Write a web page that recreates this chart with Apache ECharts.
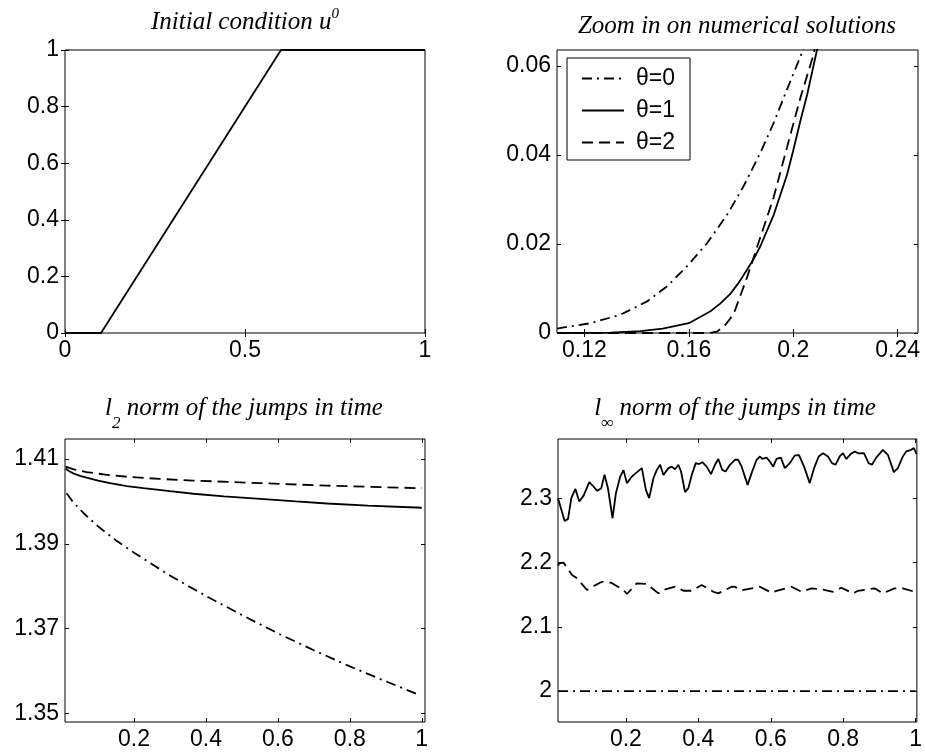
<!DOCTYPE html>
<html>
<head>
<meta charset="utf-8">
<script src="https://cdn.jsdelivr.net/npm/echarts@6/dist/echarts.min.js"></script>
<style>
html,body{margin:0;padding:0;background:#fff;}
#chart{width:925px;height:756px;}
</style>
</head>
<body>
<div id="chart"></div>
<script>
// ---------- Data ----------
// Panel 1: initial condition u0
const u0X = [0, 0.1, 0.6, 1];
const u0Y = [0, 0, 1, 1];
const p1XTicks = [0, 0.5, 1];
const p1YTicks = [0, 0.2, 0.4, 0.6, 0.8, 1];

// Panel 2: zoom on numerical solutions
const legendNames = ['θ=0', 'θ=1', 'θ=2'];
const zoomX0 = [0.1095, 0.1102, 0.1223, 0.1338, 0.1440, 0.1517, 0.1593, 0.1670, 0.1747, 0.1810, 0.1874, 0.1925, 0.1976, 0.2028, 0.2045];
const zoomY0 = [0.0010, 0.0011, 0.0022, 0.0041, 0.0071, 0.0105, 0.0150, 0.0202, 0.0266, 0.0330, 0.0405, 0.0472, 0.0547, 0.0622, 0.0650];
const zoomX1 = [0.1095, 0.1300, 0.1415, 0.1500, 0.1600, 0.1683, 0.1720, 0.1759, 0.1790, 0.1823, 0.1850, 0.1874, 0.1925, 0.1976, 0.2000, 0.2028, 0.2053, 0.2091, 0.2105];
const zoomY1 = [0.0000, 0.0001, 0.0004, 0.0010, 0.0022, 0.0049, 0.0066, 0.0088, 0.0112, 0.0142, 0.0168, 0.0195, 0.0265, 0.0355, 0.0410, 0.0478, 0.0535, 0.0636, 0.0670];
const zoomX2 = [0.1095, 0.1680, 0.1708, 0.1740, 0.1772, 0.1823, 0.1874, 0.1925, 0.1976, 0.2028, 0.2076, 0.2090];
const zoomY2 = [0.0000, 0.0000, 0.0003, 0.0018, 0.0043, 0.0125, 0.0215, 0.0305, 0.0417, 0.0530, 0.0622, 0.0660];
const p2XTicks = [0.12, 0.16, 0.2, 0.24];
const p2YTicks = [0, 0.02, 0.04, 0.06];

// Panel 3: l2 norm of the jumps in time
const l2T0 = [0.0125, 0.03, 0.06, 0.1, 0.15, 0.2, 0.3, 0.4, 0.5, 0.6, 0.7, 0.8, 0.9, 0.995];
const l2V0 = [1.4019, 1.3999, 1.3972, 1.3941, 1.3908, 1.3879, 1.3825, 1.3777, 1.3732, 1.3689, 1.3649, 1.3611, 1.3576, 1.3543];
const l2T1 = [0.01, 0.02, 0.031, 0.05, 0.068, 0.1, 0.133, 0.18, 0.226, 0.3, 0.365, 0.45, 0.551, 0.65, 0.737, 0.85, 1.0];
const l2V1 = [1.4077, 1.4071, 1.4066, 1.4060, 1.4056, 1.4049, 1.4043, 1.4036, 1.4031, 1.4024, 1.4018, 1.4012, 1.4006, 1.4000, 1.3995, 1.3990, 1.3985];
const l2T2 = [0.01, 0.03, 0.068, 0.12, 0.18, 0.27, 0.365, 0.551, 0.737, 1.0];
const l2V2 = [1.4082, 1.4076, 1.4069, 1.4063, 1.4058, 1.4053, 1.4049, 1.4043, 1.4037, 1.4031];
const p3XTicks = [0.2, 0.4, 0.6, 0.8, 1];
const p3YTicks = [1.35, 1.37, 1.39, 1.41];

// Panel 4: l_inf norm of the jumps in time
const linfT0 = [0.0125, 1.0];
const linfV0 = [2.0, 2.0];
const linfT1 = [0.0125, 0.0309, 0.0402, 0.0493, 0.0603, 0.0713, 0.0832, 0.0989, 0.1080, 0.1209, 0.1320, 0.1410, 0.1504, 0.1631, 0.1725, 0.1843, 0.1934, 0.2028, 0.2165, 0.2275, 0.2441, 0.2551, 0.2642, 0.2760, 0.2854, 0.2945, 0.3036, 0.3174, 0.3267, 0.3358, 0.3449, 0.3523, 0.3634, 0.3725, 0.3818, 0.3928, 0.4019, 0.4110, 0.4231, 0.4350, 0.4460, 0.4551, 0.4661, 0.4755, 0.4873, 0.5011, 0.5102, 0.5196, 0.5361, 0.5471, 0.5609, 0.5700, 0.5764, 0.5884, 0.5975, 0.6066, 0.6160, 0.6278, 0.6388, 0.6526, 0.6664, 0.6780, 0.6920, 0.7077, 0.7196, 0.7325, 0.7444, 0.7581, 0.7691, 0.7785, 0.7904, 0.7994, 0.8088, 0.8207, 0.8317, 0.8427, 0.8573, 0.8702, 0.8793, 0.8915, 0.9096, 0.9234, 0.9399, 0.9510, 0.9647, 0.9741, 0.9879, 0.9950, 1.0030];
const linfV1 = [2.300, 2.2646, 2.2678, 2.300, 2.3145, 2.2947, 2.304, 2.325, 2.3197, 2.3114, 2.3156, 2.3363, 2.3156, 2.2688, 2.3078, 2.3336, 2.3436, 2.3234, 2.3336, 2.339, 2.3467, 2.313, 2.300, 2.331, 2.344, 2.3519, 2.336, 2.3467, 2.349, 2.345, 2.352, 2.3414, 2.3093, 2.3156, 2.336, 2.3545, 2.353, 2.356, 2.349, 2.3374, 2.3519, 2.361, 2.344, 2.3414, 2.3519, 2.3597, 2.3597, 2.349, 2.3207, 2.339, 2.3597, 2.3648, 2.361, 2.3632, 2.357, 2.349, 2.361, 2.3632, 2.3467, 2.3545, 2.3664, 2.367, 2.349, 2.3234, 2.3467, 2.3648, 2.370, 2.3648, 2.3545, 2.3519, 2.3648, 2.370, 2.361, 2.3685, 2.3726, 2.3695, 2.370, 2.3545, 2.3519, 2.3632, 2.3752, 2.3674, 2.3405, 2.3467, 2.3648, 2.3726, 2.3752, 2.3779, 2.3685];
const linfT2 = [0.0125, 0.0163, 0.0281, 0.0512, 0.0650, 0.0926, 0.1044, 0.1339, 0.1595, 0.1934, 0.2028, 0.2303, 0.2579, 0.2898, 0.3036, 0.3358, 0.3587, 0.3818, 0.4094, 0.4413, 0.4551, 0.4920, 0.5011, 0.5196, 0.5471, 0.5700, 0.6022, 0.6160, 0.6573, 0.6849, 0.7124, 0.7444, 0.7719, 0.7950, 0.8270, 0.8408, 0.8868, 0.9096, 0.9419, 0.9647, 0.9970];
const linfV2 = [2.195, 2.1988, 2.1997, 2.1805, 2.1754, 2.1572, 2.1614, 2.170, 2.1685, 2.1572, 2.151, 2.1676, 2.1665, 2.152, 2.1572, 2.1623, 2.1561, 2.1561, 2.165, 2.1545, 2.152, 2.1623, 2.1620, 2.1570, 2.1598, 2.1623, 2.153, 2.156, 2.1623, 2.1545, 2.1598, 2.158, 2.1545, 2.1607, 2.152, 2.156, 2.1598, 2.152, 2.1598, 2.1598, 2.1545];
const p4XTicks = [0.2, 0.4, 0.6, 0.8, 1];
const p4YTicks = [2, 2.1, 2.2, 2.3];

// ---------- Styles ----------
const SANS = 'Liberation Sans, Arial, Helvetica, sans-serif';
const SERIF = 'Liberation Serif, Times New Roman, serif';
const LABEL_SIZE = 23;
const DASH = [11, 6];
const DASHDOT = [10, 5, 2, 5];
const LW = 1.8;

const grids = [
  {left: 65, top: 50, width: 360, height: 283},
  {left: 557, top: 50, width: 361, height: 283},
  {left: 65, top: 439, width: 360, height: 283},
  {left: 558, top: 439, width: 359, height: 283}
];
const ranges = [
  {x: [0, 1], y: [0, 1], xt: p1XTicks, yt: p1YTicks},
  {x: [0.1095, 0.2478], y: [0, 0.0636], xt: p2XTicks, yt: p2YTicks},
  {x: [0.008, 1.009], y: [1.348, 1.4147], xt: p3XTicks, yt: p3YTicks},
  {x: [0.0125, 1.0035], y: [1.952, 2.392], xt: p4XTicks, yt: p4YTicks}
];

const fmt = v => String(+(+v).toFixed(4));

const xAxes = [], yAxes = [];
ranges.forEach((r, i) => {
  ['bottom', 'top'].forEach(pos => {
    xAxes.push({
      type: 'value', gridIndex: i, position: pos, min: r.x[0], max: r.x[1],
      axisLine: {show: false},
      splitLine: {show: false},
      axisTick: {show: true, inside: true, length: 4, customValues: r.xt, lineStyle: {color: '#000', width: 1}},
      axisLabel: {show: pos === 'bottom', customValues: r.xt, formatter: fmt, color: '#000', fontSize: LABEL_SIZE, fontFamily: SANS, margin: 6}
    });
  });
  ['left', 'right'].forEach(pos => {
    yAxes.push({
      type: 'value', gridIndex: i, position: pos, min: r.y[0], max: r.y[1],
      axisLine: {show: false},
      splitLine: {show: false},
      axisTick: {show: true, inside: true, length: 4, customValues: r.yt, lineStyle: {color: '#000', width: 1}},
      axisLabel: {show: pos === 'left', customValues: r.yt, formatter: fmt, color: '#000', fontSize: LABEL_SIZE, fontFamily: SANS, margin: 6}
    });
  });
});

const zip = (xs, ys) => xs.map((x, k) => [x, ys[k]]);
function line(name, gi, xs, ys, type) {
  return {
    name: name, type: 'line', xAxisIndex: gi * 2, yAxisIndex: gi * 2,
    data: zip(xs, ys), symbol: 'none', smooth: false, clip: true,
    lineStyle: {color: '#000', width: LW, type: type},
    itemStyle: {color: '#000'},
    emphasis: {disabled: true}
  };
}

const series = [
  line('u0', 0, u0X, u0Y, 'solid'),
  line(legendNames[0], 1, zoomX0, zoomY0, DASHDOT),
  line(legendNames[1], 1, zoomX1, zoomY1, 'solid'),
  line(legendNames[2], 1, zoomX2, zoomY2, DASH),
  line('l2_0', 2, l2T0, l2V0, DASHDOT),
  line('l2_1', 2, l2T1, l2V1, 'solid'),
  line('l2_2', 2, l2T2, l2V2, DASH),
  line('linf_0', 3, linfT0, linfV0, DASHDOT),
  line('linf_1', 3, linfT1, linfV1, 'solid'),
  line('linf_2', 3, linfT2, linfV2, DASH)
];

const TS = 25;
const titleRich = {
  m: {fontFamily: SERIF, fontStyle: 'italic', fontSize: TS, color: '#000', lineHeight: 28, verticalAlign: 'bottom'},
  sup: {fontFamily: SERIF, fontStyle: 'italic', fontSize: 15, color: '#000', lineHeight: 15, verticalAlign: 'top'},
  sm: {fontFamily: SERIF, fontStyle: 'italic', fontSize: TS, color: '#000', verticalAlign: 'top'},
  sub: {fontFamily: SERIF, fontStyle: 'italic', fontSize: 17, color: '#000', verticalAlign: 'bottom', padding: [19, 0, 0, 0]}
};
function titleText(x, y, text) {
  return {
    type: 'text', x: x, y: y, silent: true,
    style: {text: text, rich: titleRich, align: 'center', verticalAlign: 'top', fill: '#000'}
  };
}

const option = {
  animation: false,
  backgroundColor: '#fff',
  grid: grids.map(g => Object.assign({show: true, borderColor: '#000', borderWidth: 1, backgroundColor: 'transparent', containLabel: false}, g)),
  xAxis: xAxes,
  yAxis: yAxes,
  legend: {
    data: legendNames,
    left: 567, top: 58,
    orient: 'vertical',
    backgroundColor: '#fff',
    borderColor: '#000', borderWidth: 1,
    padding: [9, 15, 6, 14],
    itemWidth: 42, itemHeight: 22, itemGap: 9,
    selectedMode: false,
    itemStyle: {opacity: 0, borderWidth: 0},
    textStyle: {fontFamily: SANS, fontSize: LABEL_SIZE, color: '#000', padding: [0, 0, 0, 7]}
  },
  graphic: [
    titleText(245, 7, '{m|Initial condition u}{sup|0}'),
    titleText(737, 11, '{m|Zoom in on numerical solutions}'),
    titleText(244, 396, '{sm|l}{sub|2}{sm| norm of the jumps in time}'),
    titleText(735, 396, '{sm|l}{sub|∞}{sm| norm of the jumps in time}')
  ],
  series: series
};

const chart = echarts.init(document.getElementById('chart'), null, {renderer: 'canvas'});
chart.setOption(option);
</script>
</body>
</html>
